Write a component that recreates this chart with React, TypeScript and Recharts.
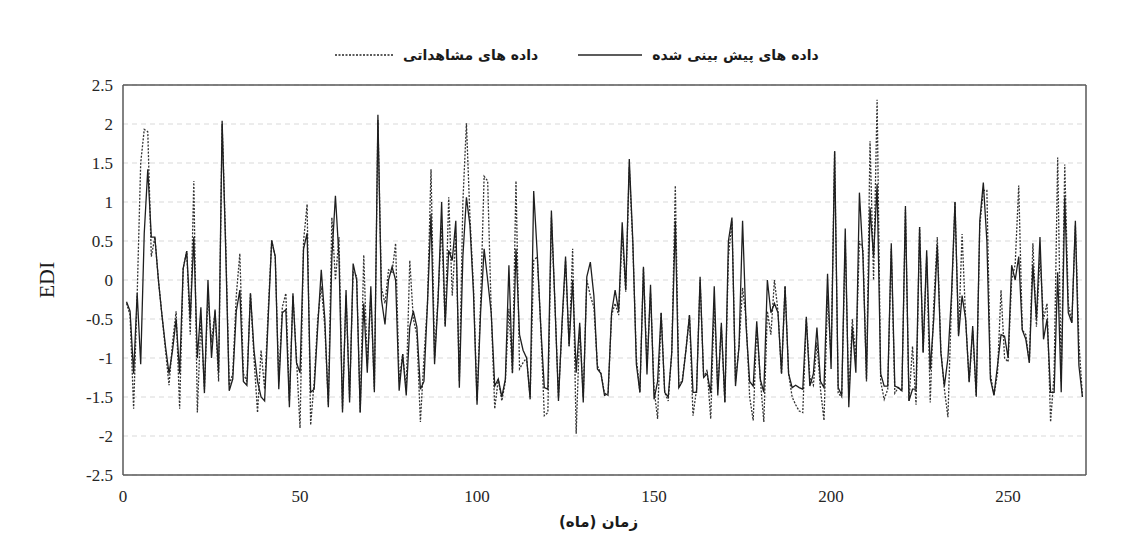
import React from 'react';
import { LineChart, Line, XAxis, YAxis, CartesianGrid, ReferenceLine, Label } from 'recharts';

// پیش بینی شده (solid) و مشاهداتی (dotted) EDI values, month by month
const PREDICTED = [
  -0.28, -0.4, -1.2, -0.17, -1.08, 0.6, 1.42, 0.55, 0.55, 0.0,
  -0.45, -0.85, -1.2, -0.9, -0.5, -1.2, 0.15, 0.37, -0.5, 0.55,
  -1.0, -0.35, -1.45, 0.0, -1.0, -0.38, -1.19, 2.04, 0.4, -1.42,
  -1.27, -0.4, -0.13, -1.3, -1.35, -0.17, -0.9, -1.3, -1.5, -1.55,
  -0.5, 0.51, 0.3, -1.4, -0.42, -0.38, -1.63, -0.17, -1.06, -1.19,
  0.4, 0.6, -1.44, -1.4, -0.6, 0.13, -0.5, -1.63, 0.3, 1.08,
  0.3, -1.7, -0.13, -1.57, 0.21, 0.0, -1.7, -0.3, -1.19, -0.08,
  -1.44, 2.12, -0.25, -0.57, 0.0, 0.17, 0.0, -1.42, -0.95, -1.48,
  -0.6, -0.4, -0.6, -1.4, -1.3, -0.3, 0.85, -1.08, -0.25, 1.0,
  -0.59, 0.38, 0.25, 0.76, -1.38, 0.3, 1.06, 0.7, -0.17, -1.6,
  -0.42, 0.4, 0.0, -0.42, -1.36, -1.27, -1.5, -1.27, 0.19, -1.19,
  0.4, -0.7, -0.9, -1.0, -1.53, 1.14, 0.34, -0.6, -1.38, -1.4,
  0.89, -0.3, -1.55, -0.55, 0.3, -0.85, 0.0, -1.19, -0.55, -1.57,
  0.04, 0.23, -0.2, -1.14, -1.2, -1.48, -1.46, -0.42, -0.13, -0.4,
  0.74, -0.13, 1.55, 0.5, -1.08, -1.44, 0.17, -1.21, -0.06, -1.53,
  -1.3, -0.42, -1.44, -1.5, -0.93, 0.76, -1.38, -1.3, -0.9, -0.45,
  -1.44, -1.44, 0.04, -1.25, -1.2, -1.45, -0.08, -1.48, -0.55, -1.57,
  0.5, 0.8, -1.36, -0.85, 0.76, -0.6, -1.3, -1.36, -0.53, -1.27,
  -1.44, 0.0, -0.42, -0.3, -0.42, -1.2, -0.08, -1.2, -1.38, -1.35,
  -1.38, -1.4, -0.47, -1.36, -1.2, -0.61, -1.3, -1.38, 0.08, -1.14,
  1.65, -1.38, -1.48, 0.66, -1.63, -0.6, -1.19, 1.12, 0.3, -1.27,
  0.93, 0.3, 1.23, -1.2, -1.36, -1.36, 0.47, -1.36, -1.38, -1.42,
  0.95, -1.55, -1.4, -1.4, 0.68, -0.93, 0.38, -1.15, -0.5, 0.45,
  -0.93, -1.36, -1.0, -0.2, 1.0, -0.72, -0.2, -0.5, -1.31, -0.59,
  -1.48, 0.76, 1.25, 0.5, -1.27, -1.48, -1.1, -0.7, -0.72, -1.0,
  0.19, 0.0, 0.3, -0.64, -0.76, -1.06, 0.2, -0.5, 0.55, -0.76,
  -0.5, -1.44, -1.44, 0.1, -1.44, 1.06, -0.42, -0.55, 0.76, -1.1, -1.5,
];

const OBSERVED = [
  -0.3, -0.45, -1.65, -0.2, 1.5, 1.93, 1.9, 0.3, 0.55, 0.0,
  -0.45, -0.9, -1.35, -0.8, -0.4, -1.65, 0.15, 0.37, -0.7, 1.27,
  -1.7, -0.5, -1.4, -0.2, -0.8, -0.4, -1.3, 2.0, 0.5, -1.35,
  -1.2, -0.2, 0.34, -1.2, -1.3, -0.17, -1.0, -1.7, -0.9, -1.4,
  -0.4, 0.5, 0.3, -1.3, -0.35, -0.17, -1.55, -0.2, -1.0, -1.9,
  0.5, 0.97, -1.86, -1.3, -0.5, -0.08, -0.6, -1.6, 0.8, 0.0,
  0.55, -1.65, -0.2, -1.5, 0.1, 0.05, -1.7, 0.32, -1.1, -0.2,
  -1.4, 2.05, -0.1, -0.3, 0.13, 0.1, 0.47, -1.3, -0.95, -1.4,
  0.25, -0.5, -0.7, -1.82, -1.0, -0.3, 1.42, -1.0, -0.2, 0.7,
  -0.6, 1.06, -0.2, 0.6, -1.3, 1.0, 2.01, 0.8, -0.1, -1.55,
  -0.3, 1.33, 1.27, -0.4, -1.65, -1.27, -1.55, -1.3, -0.37, -1.2,
  1.27, -1.14, -1.06, -1.0, -1.5, 0.25, 0.3, -0.6, -1.74, -1.7,
  0.8, -0.3, -1.5, -0.6, 0.25, -0.85, 0.4, -1.97, -0.6, -1.5,
  0.0, -0.2, -0.35, -1.1, -1.2, -1.45, -1.48, -0.45, -0.3, -0.45,
  0.6, -0.15, 1.45, 0.45, -1.0, -1.44, 0.15, -1.1, -0.17, -1.4,
  -1.78, -0.42, -1.44, -1.55, -0.93, 1.21, -1.38, -1.27, -0.9, -0.45,
  -1.74, -1.4, 0.0, -1.25, -1.15, -1.78, -0.3, -1.4, -0.6, -1.57,
  0.3, 0.75, -1.3, -0.85, -0.1, -0.5, -1.5, -1.8, -0.6, -1.27,
  -1.82, -0.4, -0.7, 0.0, -0.4, -1.2, -0.08, -1.2, -1.5, -1.6,
  -1.68, -1.7, -0.5, -1.25, -1.35, -0.8, -1.4, -1.8, -0.2, -1.0,
  1.65, -1.45, -1.5, 0.5, -1.5, -0.5, -1.0, 0.5, 0.4, -1.3,
  1.78, 0.0, 2.31, -1.3, -1.53, -1.4, 0.4, -1.45, -1.38, -1.42,
  0.9, -1.55, -0.85, -1.6, 0.68, -0.93, 0.3, -1.57, -0.3, 0.55,
  -0.9, -1.4, -1.76, -0.3, 1.0, -0.7, 0.59, -0.5, -1.3, -0.65,
  -1.5, 0.7, 1.15, 1.15, -1.2, -1.48, -1.2, -0.13, -1.0, -1.05,
  0.0, 0.2, 1.21, -0.64, -0.7, -1.06, 0.47, -0.6, 0.3, -0.5,
  -0.3, -1.82, -1.2, 1.57, -1.3, 1.48, -0.3, -0.55, 0.7, -0.8, -1.5,
];

const X_TICKS = [0, 50, 100, 150, 200, 250];
const Y_TICKS = [-2.5, -2, -1.5, -1, -0.5, 0, 0.5, 1, 1.5, 2, 2.5];
const X_MAX = 272;

const LABEL_OBSERVED = 'داده های مشاهداتی';
const LABEL_PREDICTED = 'داده های پیش بینی شده';
const X_TITLE = 'زمان (ماه)';
const Y_TITLE = 'EDI';

const data = PREDICTED.map((p, k) => ({ month: k + 1, predicted: p, observed: OBSERVED[k] }));

const FRAME = '#595959';
const tickStyle = { fill: '#262626', fontSize: 17, fontFamily: '"Liberation Serif", "Times New Roman", serif' };
const persianFont = '"DejaVu Sans", "Noto Sans", sans-serif';

const YTitle = (props: any) => {
  const vb = props.viewBox || {};
  const cx = vb.x - 27;
  const cy = vb.y + vb.height / 2;
  return (
    <text
      x={cx}
      y={cy}
      transform={`rotate(-90 ${cx} ${cy})`}
      textAnchor="middle"
      dominantBaseline="central"
      fill="#1a1a1a"
      fontSize={22}
      fontFamily='"Liberation Serif", "Times New Roman", serif'
    >
      {Y_TITLE}
    </text>
  );
};

const XTitle = (props: any) => {
  const vb = props.viewBox || {};
  const cx = vb.x + vb.width / 2 - 6;
  const cy = vb.y + vb.height + 17;
  return (
    <text
      x={cx}
      y={cy}
      textAnchor="middle"
      dominantBaseline="central"
      direction="rtl"
      fill="#1a1a1a"
      fontSize={15}
      fontWeight="bold"
      fontFamily={persianFont}
    >
      {X_TITLE}
    </text>
  );
};

const LegendItem = ({ dashed, label, width }: { dashed: boolean; label: string; width: number }) => (
  <div style={{ display: 'flex', alignItems: 'center' }}>
    <svg width={width} height={6} style={{ marginRight: 10 }}>
      <line
        x1={0}
        y1={3}
        x2={width}
        y2={3}
        stroke="#262626"
        strokeWidth={dashed ? 1.4 : 1.6}
        strokeDasharray={dashed ? '2 1.5' : undefined}
      />
    </svg>
    <span dir="rtl" style={{ fontFamily: persianFont, fontWeight: 'bold', fontSize: 14, color: '#1a1a1a' }}>
      {label}
    </span>
  </div>
);

export default function App() {
  return (
    <div style={{ position: 'absolute', left: 0, top: 0, width: 1133, height: 556, background: '#fff' }}>
      <div
        style={{
          position: 'absolute',
          left: 335,
          top: 47,
          display: 'flex',
          alignItems: 'center',
          gap: 40,
          zIndex: 2,
        }}
      >
        <LegendItem dashed label={LABEL_OBSERVED} width={58} />
        <LegendItem dashed={false} label={LABEL_PREDICTED} width={64} />
      </div>
      <LineChart
        width={1133}
        height={556}
        data={data}
        margin={{ top: 85, right: 1133 - 1086, bottom: 51, left: 73 }}
      >
        <CartesianGrid
          vertical={false}
          stroke="#d9d9d9"
          strokeDasharray="5 4"
          strokeWidth={1.2}
        />
        <XAxis
          type="number"
          dataKey="month"
          domain={[0, X_MAX]}
          ticks={X_TICKS}
          allowDataOverflow
          height={30}
          tick={tickStyle}
          tickLine={false}
          tickMargin={9}
          axisLine={{ stroke: FRAME, strokeWidth: 1.5 }}
        >
          <Label content={<XTitle />} />
        </XAxis>
        <YAxis
          type="number"
          domain={[-2.5, 2.5]}
          ticks={Y_TICKS}
          width={50}
          tick={tickStyle}
          tickLine={false}
          tickMargin={4}
          axisLine={{ stroke: FRAME, strokeWidth: 1.5 }}
        >
          <Label content={<YTitle />} />
        </YAxis>
        <ReferenceLine y={2.5} stroke={FRAME} strokeWidth={1.5} />
        <ReferenceLine x={X_MAX} stroke={FRAME} strokeWidth={1.5} />
        <Line
          type="linear"
          dataKey="observed"
          stroke="#333333"
          strokeWidth={1.3}
          strokeDasharray="2 1.5"
          dot={false}
          isAnimationActive={false}
        />
        <Line
          type="linear"
          dataKey="predicted"
          stroke="#1f1f1f"
          strokeWidth={1.3}
          dot={false}
          isAnimationActive={false}
        />
      </LineChart>
    </div>
  );
}
